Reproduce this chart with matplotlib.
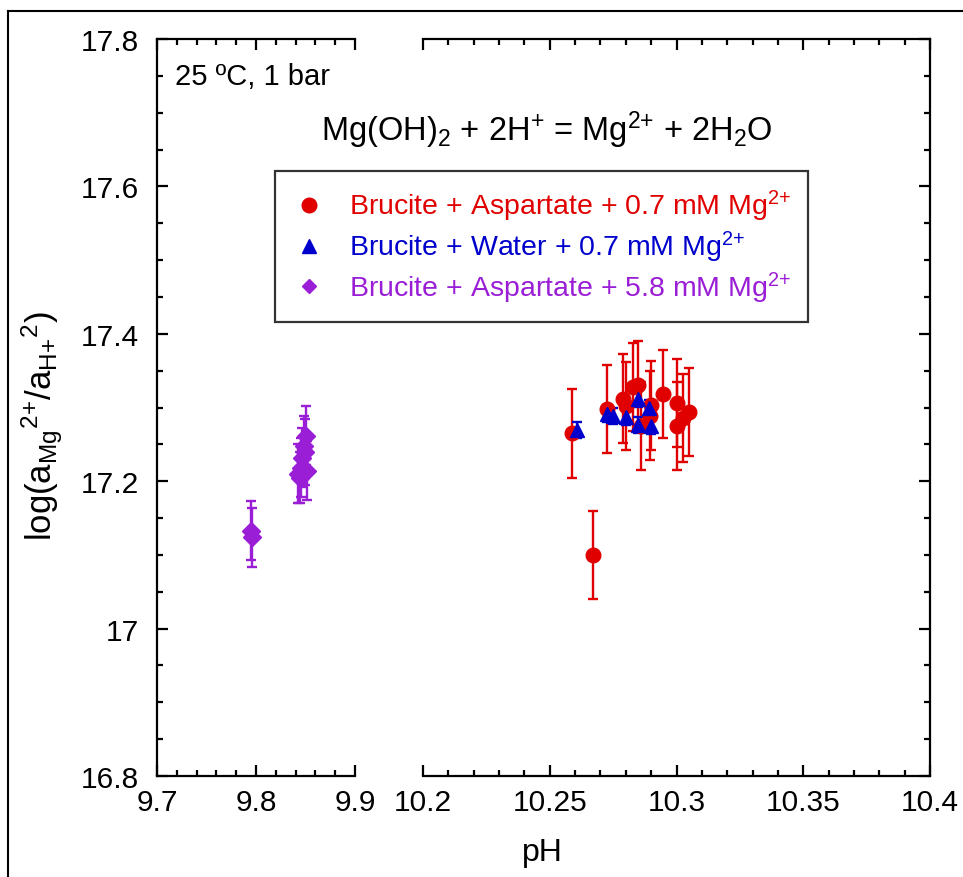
import numpy as np
import matplotlib
matplotlib.use("Agg")
from matplotlib import pyplot as plt
from matplotlib.lines import Line2D
from matplotlib.ticker import MultipleLocator

plt.rcParams['font.family'] = ['Liberation Sans', 'DejaVu Sans']
plt.rcParams['mathtext.fontset'] = 'custom'
plt.rcParams['mathtext.rm'] = 'Liberation Sans'
plt.rcParams['mathtext.it'] = 'Liberation Sans:italic'
plt.rcParams['mathtext.bf'] = 'Liberation Sans:bold'

# brucite + aspartate + 5.8 mM Mg (left panel)
ph_purple = [9.795, 9.796, 9.842, 9.844, 9.845, 9.846, 9.848, 9.849, 9.850, 9.852]
logk_purple = [17.133, 17.124, 17.210, 17.205, 17.218, 17.232, 17.248, 17.240, 17.262, 17.214]
err_purple = [0.04, 0.04, 0.04, 0.035, 0.04, 0.04, 0.04, 0.045, 0.04, 0.04]

# brucite + aspartate + 0.7 mM Mg
ph_red = [10.2587, 10.2670, 10.2727, 10.2790, 10.2800, 10.2830, 10.2848, 10.2860,
          10.2895, 10.2900, 10.2948, 10.3000, 10.3000, 10.3027, 10.3050]
logk_red = [17.265, 17.100, 17.298, 17.312, 17.302, 17.328, 17.330, 17.275,
            17.289, 17.303, 17.318, 17.306, 17.275, 17.286, 17.294]
err_red = [0.06] * len(ph_red)

# brucite + water + 0.7 mM Mg
ph_blue = [10.2609, 10.2727, 10.2750, 10.2800, 10.2850, 10.2890, 10.2850, 10.2900]
logk_blue = [17.269, 17.291, 17.288, 17.287, 17.312, 17.299, 17.276, 17.275]
err_blue = [0.011] * len(ph_blue)

red = '#E00000'
blue = '#0000CC'
purple = '#9A1ED6'

W, H = 963, 878
fig = plt.figure(figsize=(W / 100, H / 100), dpi=100)

def px_axes(x0, x1, y0, y1):
    return fig.add_axes([x0 / W, 1 - y1 / H, (x1 - x0) / W, (y1 - y0) / H])

axL = px_axes(157, 355, 40, 777)
axR = px_axes(423, 930, 40, 777)

for ax in (axL, axR):
    ax.set_ylim(16.8, 17.8)
    ax.yaxis.set_major_locator(MultipleLocator(0.2))
    ax.yaxis.set_minor_locator(MultipleLocator(0.05))
    for s in ax.spines.values():
        s.set_linewidth(1.6)
    ax.tick_params(which='both', direction='in', top=True, width=1.6, labelsize=21.5)
    ax.tick_params(which='major', length=8)
    ax.tick_params(which='minor', length=4.5)
    ax.tick_params(axis='x', pad=9)

axL.set_xlim(9.7, 9.9)
axL.xaxis.set_major_locator(MultipleLocator(0.1))
axL.xaxis.set_minor_locator(MultipleLocator(0.02))
axL.spines['right'].set_visible(False)
axL.tick_params(axis='y', which='both', left=True, right=False, pad=13)
axL.set_yticks([16.8, 17.0, 17.2, 17.4, 17.6, 17.8])
axL.set_yticklabels(['16.8', '17', '17.2', '17.4', '17.6', '17.8'])

axR.set_xlim(10.2, 10.4)
axR.xaxis.set_major_locator(MultipleLocator(0.05))
axR.xaxis.set_minor_locator(MultipleLocator(0.01))
axR.set_xticks([10.2, 10.25, 10.3, 10.35, 10.4])
axR.set_xticklabels(['10.2', '10.25', '10.3', '10.35', '10.4'])
axR.spines['left'].set_visible(False)
axR.tick_params(axis='y', which='both', left=False, right=True, labelleft=False)

eb = dict(linestyle='none', elinewidth=1.7, capsize=3.5, capthick=1.7)
axL.errorbar(ph_purple, logk_purple, yerr=err_purple, fmt='D', color=purple,
             markersize=9, clip_on=False, **eb)
axR.errorbar(ph_red, logk_red, yerr=err_red, fmt='o', color=red,
             markersize=10.5, **eb)
axR.errorbar(ph_blue, logk_blue, yerr=err_blue, fmt='^', color=blue,
             markersize=10.5, **eb)

# texts
fig.text(175 / W, 1 - 77 / H, '25 ºC, 1 bar', fontsize=21, va='center', ha='left')
fig.text(547 / W, 1 - 130 / H,
         'Mg(OH)$_2$ + 2H$^{{+}}$ = Mg$^{2{+}}$ + 2H$_2$O',
         fontsize=23.5, va='center', ha='center')
fig.text(542 / W, 1 - 853 / H, 'pH', fontsize=23, va='center', ha='center')
fig.text(42 / W, 1 - 426 / H,
         'log(a$_{\\rm Mg}$$^{2{+}}$/a$_{\\rm H{+}}$$^{2}$)',
         fontsize=25, va='center', ha='center', rotation=90)

handles = [
    Line2D([], [], linestyle='none', marker='o', color=red, markersize=10.5),
    Line2D([], [], linestyle='none', marker='^', color=blue, markersize=10.5),
    Line2D([], [], linestyle='none', marker='D', color=purple, markersize=7.5),
]
labels = [
    'Brucite + Aspartate + 0.7 mM Mg$^{2{+}}$',
    'Brucite + Water + 0.7 mM Mg$^{2{+}}$',
    'Brucite + Aspartate + 5.8 mM Mg$^{2{+}}$',
]
leg = fig.legend(handles, labels, loc='upper left',
                 bbox_to_anchor=(275 / W, 1 - 172 / H), fontsize=20.5,
                 frameon=True, fancybox=False, borderpad=0.6,
                 labelspacing=0.2, handletextpad=0.8, handlelength=1.2,
                 borderaxespad=0)
leg.get_frame().set_edgecolor('black')
leg.get_frame().set_linewidth(1.6)
for t, c in zip(leg.get_texts(), [red, blue, purple]):
    t.set_color(c)

# outer frame (partly cut off in the original)
fig.add_artist(Line2D([8 / W, 8 / W], [0, 1 - 12 / H], color='black', lw=1.5))
fig.add_artist(Line2D([8 / W, 1], [1 - 12 / H, 1 - 12 / H], color='black', lw=1.5))

fig.savefig('out.png', dpi=100)
